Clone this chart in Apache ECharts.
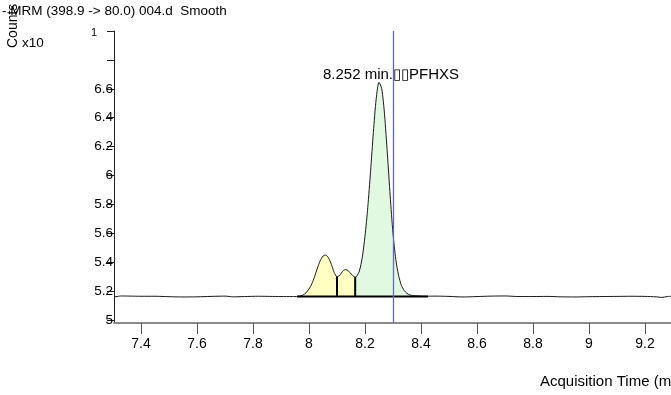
<!DOCTYPE html>
<html>
<head>
<meta charset="utf-8">
<script src="https://cdn.jsdelivr.net/npm/echarts@6/dist/echarts.min.js"></script>
<style>
html,body{margin:0;padding:0;background:#fff;}
#chart{width:671px;height:395px;}
</style>
</head>
<body>
<div id="chart"></div>
<script>
// Acquisition time (min)
var times = [7.304, 7.33, 7.36, 7.40, 7.45, 7.50, 7.55, 7.60, 7.65, 7.70, 7.73, 7.77, 7.82, 7.86, 7.90, 7.94,
  7.95, 7.96, 7.97, 7.98, 7.99, 8.00, 8.01, 8.02, 8.03, 8.04, 8.05, 8.06, 8.07, 8.08, 8.09, 8.10,
  8.11, 8.12, 8.13, 8.14, 8.15, 8.16, 8.165, 8.17, 8.18, 8.19, 8.20, 8.21, 8.22, 8.23, 8.24, 8.25, 8.26,
  8.27, 8.28, 8.29, 8.30, 8.31, 8.32, 8.33, 8.34, 8.35, 8.36, 8.37, 8.38, 8.40, 8.42, 8.45,
  8.50, 8.55, 8.60, 8.65, 8.70, 8.75, 8.80, 8.85, 8.90, 8.95, 9.00, 9.05, 9.10, 9.15, 9.20, 9.24, 9.26, 9.28, 9.293];
// Counts (x10^1)
var counts = [5.160, 5.167, 5.166, 5.165, 5.165, 5.162, 5.160, 5.161, 5.164, 5.166, 5.161, 5.163, 5.165, 5.164, 5.163, 5.163,
  5.163, 5.164, 5.167, 5.175, 5.190, 5.215, 5.250, 5.300, 5.360, 5.410, 5.443, 5.450, 5.430, 5.385, 5.330, 5.300,
  5.310, 5.338, 5.350, 5.342, 5.320, 5.302, 5.298, 5.302, 5.340, 5.430, 5.580, 5.780, 6.030, 6.300, 6.530, 6.645, 6.600,
  6.420, 6.150, 5.860, 5.600, 5.420, 5.310, 5.240, 5.205, 5.185, 5.175, 5.170, 5.168, 5.166, 5.165, 5.166,
  5.164, 5.160, 5.163, 5.166, 5.167, 5.163, 5.163, 5.164, 5.161, 5.160, 5.162, 5.163, 5.164, 5.165, 5.164, 5.161, 5.157, 5.163, 5.165];

// Integrated peaks: start, end, fill colour group
var peakStart = [7.96, 8.10, 8.165];
var peakEnd = [8.10, 8.165, 8.42];
var peakKind = ['minor', 'minor', 'main'];
var integrationBaseline = 5.163;
var baselineFrom = 7.957, baselineTo = 8.425;
var splitTimes = [8.10, 8.165];
var markerTime = 8.304;
var peakLabel = '8.252 min.\u25AF\u25AFPFHXS';

var xTicks = [7.4, 7.6, 7.8, 8, 8.2, 8.4, 8.6, 8.8, 9, 9.2];
var yTicks = [5, 5.2, 5.4, 5.6, 5.8, 6, 6.2, 6.4, 6.6, 6.8, 7.0];
var yLabels = [5, 5.2, 5.4, 5.6, 5.8, 6, 6.2, 6.4, 6.6];

var FONT = 'Liberation Sans, Arial, sans-serif';
var pts = times.map(function (t, i) { return [t, counts[i]]; });
function valueAt(t) { var i = times.indexOf(t); return counts[i]; }

var series = [];
peakStart.forEach(function (s, k) {
  var e = peakEnd[k];
  var seg = pts.filter(function (p) { return p[0] >= s - 1e-9 && p[0] <= e + 1e-9; });
  series.push({
    type: 'line', data: seg, showSymbol: false, smooth: 0.25, silent: true,
    lineStyle: { width: 0, opacity: 0 },
    areaStyle: { color: peakKind[k] === 'main' ? '#e0f9e0' : '#ffffc4', opacity: 1, origin: integrationBaseline },
    z: 1
  });
});
series.push({
  type: 'line', data: pts, showSymbol: false, smooth: 0.25, silent: true,
  lineStyle: { color: '#1a1a1a', width: 1 }, z: 3,
  markLine: {
    silent: true, symbol: 'none', label: { show: false },
    lineStyle: { color: '#6666cc', width: 1.3, type: 'solid' },
    data: [{ xAxis: markerTime }]
  }
});
series.push({
  type: 'line', data: [[baselineFrom, integrationBaseline], [baselineTo, integrationBaseline]],
  showSymbol: false, silent: true, lineStyle: { color: '#000', width: 2 }, z: 4
});
splitTimes.forEach(function (t) {
  series.push({
    type: 'line', data: [[t, integrationBaseline], [t, valueAt(t)]],
    showSymbol: false, silent: true, lineStyle: { color: '#000', width: 2 }, z: 4
  });
});

var chart = echarts.init(document.getElementById('chart'), null, { renderer: 'canvas' });
chart.setOption({
  animation: false,
  backgroundColor: '#fff',
  grid: { left: 114, right: 0, top: 31, bottom: 72 },
  xAxis: {
    type: 'value', min: 7.3036, max: 9.293,
    axisLine: { lineStyle: { color: '#8a8a8a', width: 2 } },
    axisTick: { customValues: xTicks, length: 11, lineStyle: { color: '#555', width: 1 } },
    axisLabel: { customValues: xTicks, margin: 14, color: '#000', fontSize: 14, fontFamily: FONT },
    splitLine: { show: false }
  },
  yAxis: {
    type: 'value', min: 4.98, max: 7.0,
    axisLine: { show: true, lineStyle: { color: '#222', width: 1 } },
    axisTick: { show: true, customValues: yTicks, length: 7, lineStyle: { color: '#222', width: 1 } },
    axisLabel: { customValues: yLabels, margin: 1, color: '#000', fontSize: 13.5, fontFamily: FONT },
    splitLine: { show: false }
  },
  graphic: [
    { type: 'text', left: 2, top: 4, style: { text: '- MRM (398.9 -> 80.0) 004.d  Smooth', font: '13.5px ' + FONT, fill: '#000' } },
    { type: 'text', x: 6, y: 48, rotation: Math.PI / 2, style: { text: 'Counts', font: '14px ' + FONT, fill: '#000', verticalAlign: 'top' } },
    { type: 'text', left: 22, top: 36, style: { text: 'x10', font: '13.5px ' + FONT, fill: '#000' } },
    { type: 'text', left: 91, top: 27, style: { text: '1', font: '11px ' + FONT, fill: '#000' } },
    { type: 'text', left: 323, top: 67, style: { text: peakLabel, font: '15px ' + FONT, fill: '#000' } },
    { type: 'text', left: 540, top: 374, style: { text: 'Acquisition Time (min)', font: '15px ' + FONT, fill: '#000' } }
  ],
  series: series
});
</script>
</body>
</html>
